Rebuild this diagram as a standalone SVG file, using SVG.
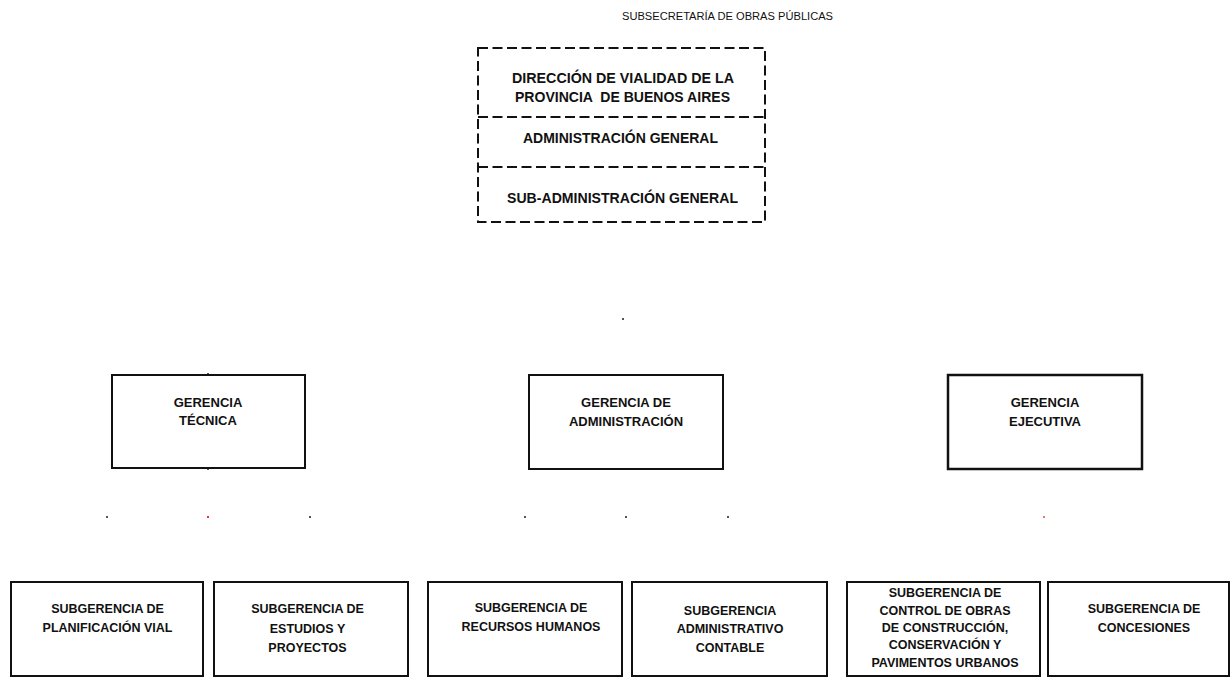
<svg xmlns="http://www.w3.org/2000/svg" width="1231" height="679" viewBox="0 0 1231 679">
<style>
text{font-family:"Liberation Sans",Arial,sans-serif;fill:#111;text-anchor:middle;white-space:pre}
.t{font-size:15px;font-weight:bold}
.g{font-size:13px;font-weight:bold}
.s{font-size:12.5px;font-weight:bold}
.box{fill:#fff;stroke:#111;stroke-width:2}
.dash{fill:none;stroke:#111;stroke-width:2;stroke-dasharray:10 4.5}
.dot{fill:#555}
</style>
<rect width="1231" height="679" fill="#fff"/>
<text x="727.5" y="20" style="font-size:10px" textLength="211" lengthAdjust="spacingAndGlyphs">SUBSECRETARÍA DE OBRAS PÚBLICAS</text>
<g id="direccion">
<rect class="dash" x="478" y="48" width="287" height="174"/>
<line class="dash" x1="478" y1="117" x2="765" y2="117"/>
<line class="dash" x1="478" y1="167" x2="765" y2="167"/>
<text class="t" x="623" y="83" textLength="222" lengthAdjust="spacingAndGlyphs">DIRECCIÓN DE VIALIDAD DE LA</text>
<text class="t" x="622.5" y="102" textLength="215" lengthAdjust="spacingAndGlyphs" xml:space="preserve">PROVINCIA  DE BUENOS AIRES</text>
<text class="t" x="620.5" y="143" textLength="195" lengthAdjust="spacingAndGlyphs">ADMINISTRACIÓN GENERAL</text>
<text class="t" x="622.5" y="203" textLength="231" lengthAdjust="spacingAndGlyphs">SUB-ADMINISTRACIÓN GENERAL</text>
</g>
<g id="connectors">
<rect class="dot" x="622" y="318" width="2" height="2"/>
<rect class="dot" x="207" y="373" width="2" height="2"/>
<rect class="dot" x="207" y="468" width="2" height="2"/>
<rect class="dot" x="106" y="516" width="2" height="2"/>
<rect x="207" y="516" width="2" height="2" fill="#e33"/>
<rect class="dot" x="309" y="516" width="2" height="2"/>
<rect class="dot" x="524" y="516" width="2" height="2"/>
<rect class="dot" x="625" y="516" width="2" height="2"/>
<rect class="dot" x="727" y="516" width="2" height="2"/>
<rect x="1043" y="516" width="2" height="2" fill="#e77"/>
</g>
<g id="gerencia-tecnica">
<rect class="box" x="112" y="375" width="193" height="93"/>
<text class="g" x="208" y="407">GERENCIA</text>
<text class="g" x="208" y="425">TÉCNICA</text>
</g>
<g id="gerencia-administracion">
<rect class="box" x="529" y="375" width="194" height="94"/>
<text class="g" x="626" y="407">GERENCIA DE</text>
<text class="g" x="626" y="426">ADMINISTRACIÓN</text>
</g>
<g id="gerencia-ejecutiva">
<rect class="box" x="948" y="375" width="194" height="94" style="stroke-width:2.5"/>
<text class="g" x="1045" y="407">GERENCIA</text>
<text class="g" x="1045" y="426">EJECUTIVA</text>
</g>
<g id="sub-planificacion">
<rect class="box" x="11" y="582" width="192" height="94"/>
<text class="s" x="107.5" y="613">SUBGERENCIA DE</text>
<text class="s" x="107.5" y="632">PLANIFICACIÓN VIAL</text>
</g>
<g id="sub-estudios">
<rect class="box" x="214" y="582" width="194" height="94"/>
<text class="s" x="307.5" y="613">SUBGERENCIA DE</text>
<text class="s" x="307.5" y="633">ESTUDIOS Y</text>
<text class="s" x="307.5" y="652">PROYECTOS</text>
</g>
<g id="sub-recursos">
<rect class="box" x="428" y="582" width="194" height="94"/>
<text class="s" x="531" y="612">SUBGERENCIA DE</text>
<text class="s" x="531" y="631">RECURSOS HUMANOS</text>
</g>
<g id="sub-administrativo">
<rect class="box" x="632" y="582" width="195" height="94"/>
<text class="s" x="730" y="615">SUBGERENCIA</text>
<text class="s" x="730" y="633">ADMINISTRATIVO</text>
<text class="s" x="730" y="652">CONTABLE</text>
</g>
<g id="sub-control">
<rect class="box" x="847" y="582" width="193" height="94"/>
<text class="s" x="945" y="597">SUBGERENCIA DE</text>
<text class="s" x="945" y="615">CONTROL DE OBRAS</text>
<text class="s" x="945" y="632">DE CONSTRUCCIÓN,</text>
<text class="s" x="945" y="649">CONSERVACIÓN Y</text>
<text class="s" x="945" y="667">PAVIMENTOS URBANOS</text>
</g>
<g id="sub-concesiones">
<rect class="box" x="1048" y="582" width="181" height="94"/>
<text class="s" x="1144" y="613">SUBGERENCIA DE</text>
<text class="s" x="1144" y="632">CONCESIONES</text>
</g>
</svg>
